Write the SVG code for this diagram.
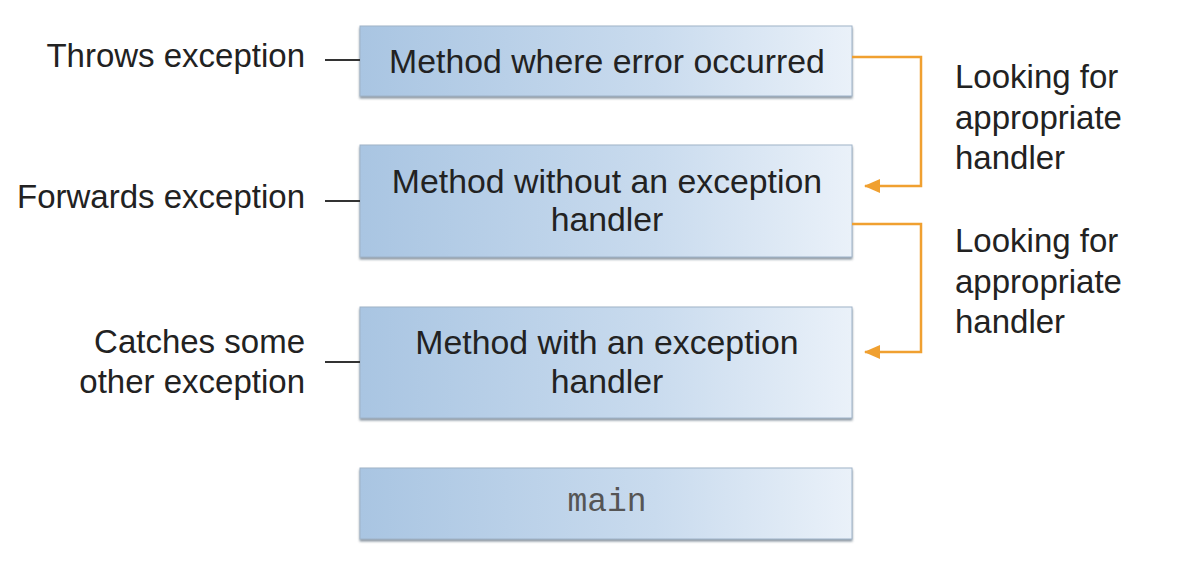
<svg xmlns="http://www.w3.org/2000/svg" width="1201" height="575" viewBox="0 0 1201 575">
<defs>
<linearGradient id="boxg" x1="0" y1="0" x2="1" y2="0">
<stop offset="0" stop-color="#a9c5e2"/>
<stop offset="0.6" stop-color="#c9dbee"/>
<stop offset="1" stop-color="#eaf1f9"/>
</linearGradient>
<filter id="sh" x="-5%" y="-10%" width="110%" height="130%">
<feDropShadow dx="0" dy="2" stdDeviation="1.2" flood-color="#556677" flood-opacity="0.7"/>
</filter>
<marker id="ah" viewBox="0 0 16 14" refX="15" refY="7" markerWidth="16" markerHeight="14" markerUnits="userSpaceOnUse" orient="auto">
<path d="M0,0 L16,7 L0,14 Z" fill="#f0a030"/>
</marker>
<style>
.box{fill:url(#boxg);stroke:#9fb3c8;stroke-width:1;filter:url(#sh)}
.t{font-family:"Liberation Sans",Arial,sans-serif;font-size:33px;fill:#222}
.b{font-size:33.8px}
.c{text-anchor:middle}
.r{text-anchor:end}
.mono{font-family:"Liberation Mono","Courier New",monospace;font-size:33px;fill:#555;text-anchor:middle}
.tick{stroke:#333;stroke-width:2;fill:none}
.or{stroke:#f0a030;stroke-width:2.5;fill:none;marker-end:url(#ah)}
</style>
</defs>
<g id="node-method-error">
<rect class="box" x="360" y="26" width="492" height="70"/>
<text class="t b c" x="607" y="73">Method where error occurred</text>
</g>
<g id="node-method-without">
<rect class="box" x="360" y="145" width="492" height="112"/>
<text class="t b c" x="607" y="193">Method without an exception</text>
<text class="t b c" x="607" y="231">handler</text>
</g>
<g id="node-method-with">
<rect class="box" x="360" y="307" width="492" height="111"/>
<text class="t b c" x="607" y="354">Method with an exception</text>
<text class="t b c" x="607" y="393">handler</text>
</g>
<g id="node-main">
<rect class="box" x="360" y="468" width="492" height="71"/>
<text class="mono" x="607" y="511">main</text>
</g>
<g id="label-throws">
<text class="t r" x="305" y="67">Throws exception</text>
</g>
<g id="label-forwards">
<text class="t r" x="305" y="208">Forwards exception</text>
</g>
<g id="label-catches">
<text class="t r" x="305" y="353">Catches some</text>
<text class="t r" x="305" y="393">other exception</text>
</g>
<g id="label-looking-1">
<text class="t" x="955" y="88">Looking for</text>
<text class="t" x="955" y="129">appropriate</text>
<text class="t" x="955" y="169">handler</text>
</g>
<g id="label-looking-2">
<text class="t" x="955" y="252">Looking for</text>
<text class="t" x="955" y="293">appropriate</text>
<text class="t" x="955" y="333">handler</text>
</g>
<g id="connectors">
<line class="tick" x1="325" y1="60" x2="360" y2="60"/>
<line class="tick" x1="325" y1="201" x2="360" y2="201"/>
<line class="tick" x1="325" y1="362" x2="360" y2="362"/>
<polyline class="or" points="852,57 921,57 921,186 865,186"/>
<polyline class="or" points="852,224 921,224 921,352 865,352"/>
</g>
</svg>
